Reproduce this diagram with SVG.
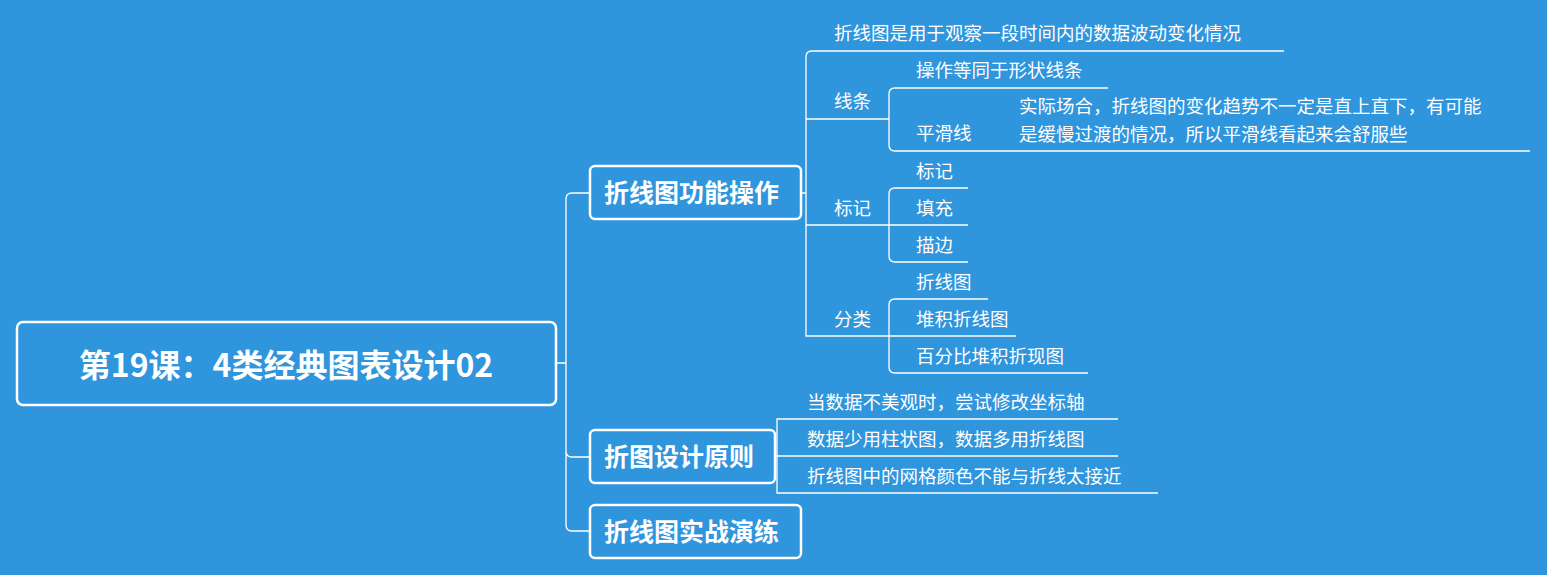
<svg xmlns="http://www.w3.org/2000/svg" width="1547" height="575" viewBox="0 0 1547 575">
<style>
.b{fill:none;stroke:#fff;stroke-width:2.5}
.c{fill:none;stroke:#fff;stroke-width:1.3}
.t{font-family:"Noto Sans CJK SC","Liberation Sans",sans-serif;fill:#fff}
.l{font-size:18.5px}
.h{font-size:25px;font-weight:bold}
</style>
<rect width="1547" height="575" fill="#2f95dd"/>
<g id="connectors" class="c">
<path d="M556 363H566M590 193H572Q566 193 566 199V525Q566 531 572 531H590M566 451Q566 457 572 457H590"/>
<path d="M801 193H806M1284 51H812Q806 51 806 57V336H889M806 119H889M806 225H889"/>
<path d="M1108 88H895Q889 88 889 94V145Q889 151 895 151H1530"/>
<path d="M968 188H895Q889 188 889 194V256Q889 262 895 262H968M889 225H968"/>
<path d="M988 299H895Q889 299 889 305V367Q889 373 895 373H1088M889 336H1016"/>
<path d="M775 456H777M1118 419H777V493H1158M777 456H1118"/>
</g>
<g id="root"><rect x="17" y="322" width="539" height="83" rx="6" class="b"/><text x="286" y="377" text-anchor="middle" class="t" font-size="32" font-weight="bold">第19课：4类经典图表设计02</text></g>
<g id="n1"><rect x="590" y="166" width="211" height="53" rx="5" class="b"/><text x="604" y="202" class="t h">折线图功能操作</text></g>
<g id="n2"><rect x="590" y="430" width="185" height="53" rx="5" class="b"/><text x="604" y="466" class="t h">折图设计原则</text></g>
<g id="n3"><rect x="590" y="505" width="211" height="53" rx="5" class="b"/><text x="604" y="541" class="t h">折线图实战演练</text></g>
<g id="leaves" class="t l">
<text x="834" y="40">折线图是用于观察一段时间内的数据波动变化情况</text>
<text x="834" y="108">线条</text>
<text x="916" y="77">操作等同于形状线条</text>
<text x="916" y="140">平滑线</text>
<text x="1019" y="113">实际场合，折线图的变化趋势不一定是直上直下，有可能</text>
<text x="1019" y="141">是缓慢过渡的情况，所以平滑线看起来会舒服些</text>
<text x="834" y="215">标记</text>
<text x="916" y="178">标记</text>
<text x="916" y="215">填充</text>
<text x="916" y="252">描边</text>
<text x="834" y="326">分类</text>
<text x="916" y="289">折线图</text>
<text x="916" y="326">堆积折线图</text>
<text x="916" y="363">百分比堆积折现图</text>
<text x="807" y="409">当数据不美观时，尝试修改坐标轴</text>
<text x="807" y="446">数据少用柱状图，数据多用折线图</text>
<text x="807" y="483">折线图中的网格颜色不能与折线太接近</text>
</g>
</svg>
